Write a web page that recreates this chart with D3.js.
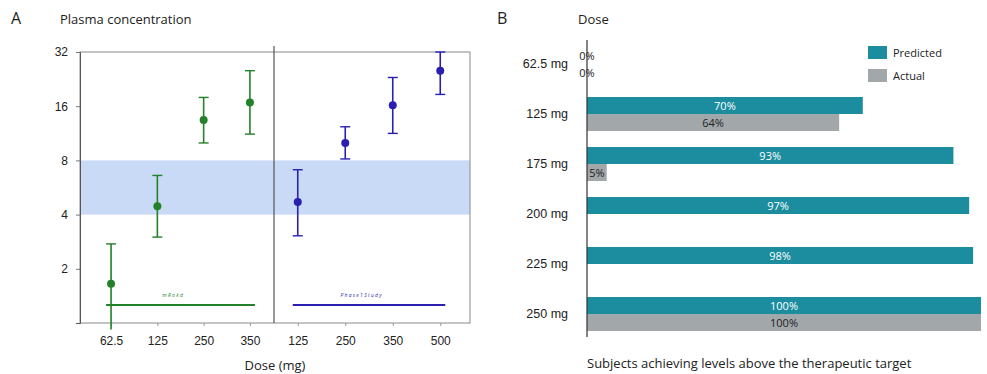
<!DOCTYPE html>
<html>
<head>
<meta charset="utf-8">
<script src="https://cdn.jsdelivr.net/npm/d3@7"></script>
<style>
  body { margin: 0; background: #fff; }
  svg { font-family: "Open Sans", sans-serif; }
</style>
</head>
<body>
<svg id="chart" width="987" height="374"></svg>
<script>
// panel A data (geometric means with error bars, log2 axis)
const leftDoses = ["62.5", "125", "250", "350"]
const leftMean = [1.65, 4.45, 13.4, 16.8]
const leftLow = [0.92, 3.0, 10.0, 11.2]
const leftHigh = [2.75, 6.6, 17.9, 25.2]

const rightDoses = ["125", "250", "350", "500"]
const rightMean = [4.7, 10.0, 16.2, 25.2]
const rightLow = [3.05, 8.15, 11.3, 18.6]
const rightHigh = [7.1, 12.3, 23.1, 32]

const yTicks = [2, 4, 8, 16, 32]
const targetBand = [4, 8]
const studyLabels = ["m R o k d", "P h a s e  1  S t u d y"]
const studyLineLevel = 1.26

// panel B data
const barDoses = ["62.5 mg", "125 mg", "175 mg", "200 mg", "225 mg", "250 mg"]
const predicted = [0, 70, 93, 97, 98, 100]
const actual = [0, 64, 5, null, null, 100]
const seriesNames = ["Predicted", "Actual"]

const green = "#23812a"
const blue = "#2b1fb0"
const teal = "#1b8d9f"
const grey = "#a2a7aa"

const svg = d3.select("#chart")

/* ---------- Panel A ---------- */
const plotTop = 52, plotBottom = 323, plotLeft = 80, plotMid = 274, plotRight = 470

const y = d3.scaleLog().base(2)
  .domain([1, 32])
  .range([plotBottom, plotTop])

const xL = d3.scalePoint().domain(leftDoses).range([plotLeft + 7, plotMid]).padding(0.52)
const xR = d3.scalePoint().domain(rightDoses).range([plotMid, plotRight - 6]).padding(0.5)

// target band
svg.append("rect")
  .attr("x", plotLeft).attr("width", plotRight - plotLeft)
  .attr("y", y(targetBand[1]))
  .attr("height", y(targetBand[0]) - y(targetBand[1]))
  .attr("fill", "#c8daf5")

// frame
svg.append("rect")
  .attr("x", plotLeft).attr("y", plotTop)
  .attr("width", plotRight - plotLeft).attr("height", plotBottom - plotTop)
  .attr("fill", "none").attr("stroke", "#8a8a8a").attr("stroke-width", 1)

svg.append("line")
  .attr("x1", plotMid).attr("x2", plotMid)
  .attr("y1", plotTop - 6).attr("y2", plotBottom)
  .attr("stroke", "#555").attr("stroke-width", 1.2)

// y axis
const yAxis = svg.append("g")
  .attr("transform", "translate(" + plotLeft + ",0)")
  .call(d3.axisLeft(y).tickValues(yTicks).tickFormat(d3.format("d")).tickSize(4).tickPadding(8))
yAxis.select(".domain").attr("stroke", "#555")
yAxis.selectAll(".tick line").attr("stroke", "#777")
yAxis.selectAll("text").attr("font-size", 12).attr("fill", "#222")

// x axes
function drawXAxis(scale) {
  const g = svg.append("g")
    .attr("transform", "translate(0," + plotBottom + ")")
    .call(d3.axisBottom(scale).tickSize(3).tickPadding(10))
  g.select(".domain").remove()
  g.selectAll(".tick line").attr("stroke", "#999")
  g.selectAll("text").attr("font-size", 12).attr("fill", "#222")
}
drawXAxis(xL)
drawXAxis(xR)

svg.append("text")
  .attr("x", 275).attr("y", 370)
  .attr("text-anchor", "middle")
  .attr("font-size", 13).attr("fill", "#222")
  .text("Dose (mg)")

// error bars + points
function drawSeries(scale, doses, mean, low, high, color) {
  const g = svg.append("g")
  doses.forEach((d, i) => {
    const cx = scale(d)
    g.append("line")
      .attr("x1", cx).attr("x2", cx)
      .attr("y1", y(low[i])).attr("y2", y(high[i]))
      .attr("stroke", color).attr("stroke-width", 1.6)
    ;[low[i], high[i]].forEach((v, k) => {
      if (k === 0 && low[i] < 1) return
      g.append("line")
        .attr("x1", cx - 5).attr("x2", cx + 5)
        .attr("y1", y(v)).attr("y2", y(v))
        .attr("stroke", color).attr("stroke-width", 1.4)
    })
    g.append("circle")
      .attr("cx", cx).attr("cy", y(mean[i]))
      .attr("r", 4).attr("fill", color)
  })
}
drawSeries(xL, leftDoses, leftMean, leftLow, leftHigh, green)
drawSeries(xR, rightDoses, rightMean, rightLow, rightHigh, blue)

// study lines
function studyLine(scale, doses, label, color) {
  const x1 = scale(doses[0]) - 5
  const x2 = scale(doses[doses.length - 1]) + 5
  svg.append("line")
    .attr("x1", x1).attr("x2", x2)
    .attr("y1", y(studyLineLevel)).attr("y2", y(studyLineLevel))
    .attr("stroke", color).attr("stroke-width", 2)
  svg.append("text")
    .attr("x", (x1 + x2) / 2 - 8).attr("y", y(studyLineLevel) - 8)
    .attr("text-anchor", "middle")
    .attr("font-size", 5).attr("font-style", "italic")
    .attr("fill", color)
    .text(label)
}
studyLine(xL, leftDoses, studyLabels[0], green)
studyLine(xR, rightDoses, studyLabels[1], blue)

svg.append("text").attr("x", 11).attr("y", 24)
  .attr("font-size", 16).attr("fill", "#222").text("A")
svg.append("text").attr("x", 60).attr("y", 24)
  .attr("font-size", 13).attr("fill", "#222").text("Plasma concentration")

/* ---------- Panel B ---------- */
const bx0 = 587, bx1 = 981

const xB = d3.scaleLinear().domain([0, 100]).range([bx0, bx1])
const yB = d3.scaleBand().domain(barDoses).range([39, 339])
  .paddingInner(0.32).paddingOuter(0.16)
const ySub = d3.scaleBand().domain(seriesNames).range([0, yB.bandwidth()])

const rows = barDoses.map((d, i) => ({ dose: d, values: [predicted[i], actual[i]] }))

const groups = svg.append("g").selectAll("g")
  .data(rows).enter().append("g")
  .attr("transform", d => "translate(0," + yB(d.dose) + ")")

groups.each(function (row) {
  const g = d3.select(this)
  row.values.forEach((v, k) => {
    if (v === null) return
    const name = seriesNames[k]
    g.append("rect")
      .attr("x", xB(0)).attr("y", ySub(name))
      .attr("width", xB(v) - xB(0)).attr("height", ySub.bandwidth())
      .attr("fill", k === 0 ? teal : grey)
    g.append("text")
      .attr("x", (xB(0) + xB(v)) / 2)
      .attr("y", ySub(name) + ySub.bandwidth() / 2 + 4)
      .attr("text-anchor", "middle")
      .attr("font-size", 11)
      .attr("fill", k === 0 && v > 10 ? "#fff" : "#222")
      .text(v + "%")
  })
})

const yAxisB = svg.append("g")
  .attr("transform", "translate(" + bx0 + ",0)")
  .call(d3.axisLeft(yB).tickSize(0).tickPadding(19))
yAxisB.select(".domain").attr("stroke", "#333").attr("stroke-width", 1.2)
  .attr("d", "M0,40V337")
yAxisB.selectAll("text").attr("font-size", 12.5).attr("fill", "#222")

// legend
const legend = svg.append("g").attr("transform", "translate(868,46)")
seriesNames.forEach((name, i) => {
  legend.append("rect")
    .attr("x", 0).attr("y", i * 23)
    .attr("width", 19).attr("height", 13)
    .attr("fill", i === 0 ? teal : grey)
  legend.append("text")
    .attr("x", 25).attr("y", i * 23 + 11)
    .attr("font-size", 11).attr("fill", "#222")
    .text(name)
})

svg.append("text").attr("x", 497).attr("y", 24)
  .attr("font-size", 16).attr("fill", "#222").text("B")
svg.append("text").attr("x", 578).attr("y", 24)
  .attr("font-size", 13).attr("fill", "#222").text("Dose")
svg.append("text").attr("x", 587).attr("y", 368)
  .attr("font-size", 13).attr("fill", "#222")
  .text("Subjects achieving levels above the therapeutic target")
</script>
</body>
</html>
